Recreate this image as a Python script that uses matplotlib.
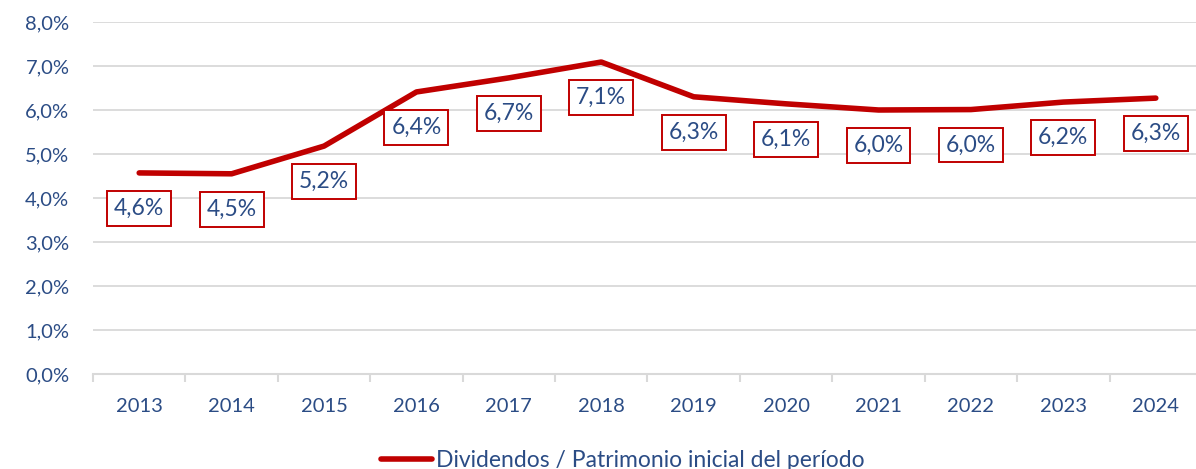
import numpy as np
import matplotlib.pyplot as plt
from matplotlib.ticker import FixedLocator, FuncFormatter

years = ['2013', '2014', '2015', '2016', '2017', '2018',
         '2019', '2020', '2021', '2022', '2023', '2024']
ratio = [4.57, 4.55, 5.18, 6.41, 6.73, 7.09, 6.30, 6.14, 6.00, 6.01, 6.18, 6.27]
labels = ['4,6%', '4,5%', '5,2%', '6,4%', '6,7%', '7,1%',
          '6,3%', '6,1%', '6,0%', '6,0%', '6,2%', '6,3%']
series_name = 'Dividendos / Patrimonio inicial del período'

red = '#C00000'
blue = '#2B4C85'
grid = '#D9D9D9'

plt.rcParams['font.family'] = ['Lato', 'DejaVu Sans']

fig = plt.figure(figsize=(11.96, 4.69), dpi=100)
ax = fig.add_axes([93 / 1196, 1 - 374 / 469, 1109 / 1196, 352 / 469])

x = np.arange(len(years))
ax.plot(x, ratio, color=red, lw=4.0, solid_capstyle='round',
        solid_joinstyle='round', label=series_name, zorder=3)

for xi, v, t in zip(x, ratio, labels):
    ax.annotate(t, (xi, v), xytext=(0, -25.5), textcoords='offset points',
                ha='center', va='center', fontsize=16.5, color=blue, zorder=4,
                bbox=dict(boxstyle='square,pad=0.3', fc='white', ec=red, lw=1.4))

ax.set_xlim(-0.5, len(years) - 0.5)
ax.set_ylim(0, 8)
ax.set_yticks(np.arange(0, 9, 1))
ax.yaxis.set_major_formatter(FuncFormatter(lambda v, p: f'{v:.1f}%'.replace('.', ',')))
ax.set_xticks(x)
ax.set_xticklabels(years)
ax.xaxis.set_minor_locator(FixedLocator(np.arange(-0.5, len(years), 1)))

ax.grid(axis='y', color=grid, lw=1.3, zorder=0)
ax.set_axisbelow(True)
for s in ['top', 'right', 'left']:
    ax.spines[s].set_visible(False)
ax.spines['bottom'].set_color(grid)
ax.spines['bottom'].set_linewidth(1.5)

ax.tick_params(axis='y', length=0, pad=17, labelsize=14.5, labelcolor=blue)
ax.tick_params(axis='x', which='major', length=0, pad=17, labelsize=14.5, labelcolor=blue)
ax.tick_params(axis='x', which='minor', length=6, width=1.5, color=grid)

fig.legend(loc='center', bbox_to_anchor=(0.521, 0.018), frameon=False,
           fontsize=16.5, labelcolor=blue, handlelength=2.2, handletextpad=0.2,
           borderpad=0, borderaxespad=0)

fig.savefig('out.png', dpi=100)
